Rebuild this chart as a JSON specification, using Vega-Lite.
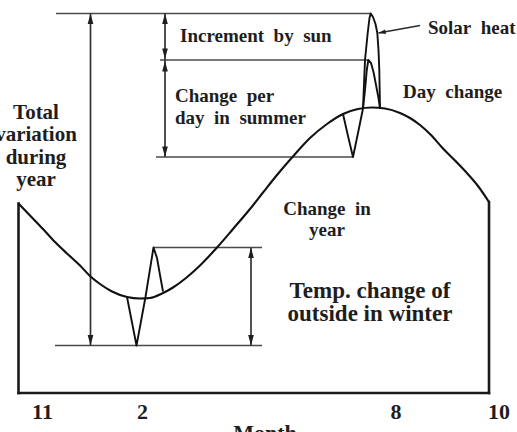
{
  "$schema": "https://vega.github.io/schema/vega-lite/v6.json",
  "width": 517,
  "height": 432,
  "autosize": {"type": "none"},
  "padding": 0,
  "background": "white",
  "config": {
    "view": {"stroke": null},
    "text": {"font": "Liberation Serif", "fontWeight": "bold", "color": "#1e1e1e"}
  },
  "datasets": {
    "year_curve": [
      {"x": 3.7, "y": 45.7}, {"x": 6.0, "y": 43.3}, {"x": 8.6, "y": 40.6}, {"x": 11.0, "y": 38.0},
      {"x": 13.4, "y": 35.7}, {"x": 16.0, "y": 33.3}, {"x": 18.0, "y": 31.2}, {"x": 20.0, "y": 29.6},
      {"x": 22.4, "y": 28.1}, {"x": 25.4, "y": 27.0}, {"x": 28.0, "y": 26.7}, {"x": 30.0, "y": 26.8},
      {"x": 32.4, "y": 27.7}, {"x": 34.6, "y": 28.9}, {"x": 37.2, "y": 30.8}, {"x": 40.0, "y": 33.3},
      {"x": 43.4, "y": 36.9}, {"x": 46.6, "y": 40.6}, {"x": 50.0, "y": 44.6}, {"x": 52.6, "y": 47.9},
      {"x": 55.4, "y": 51.4}, {"x": 58.4, "y": 54.9}, {"x": 62.0, "y": 58.8}, {"x": 65.4, "y": 61.6},
      {"x": 68.6, "y": 63.6}, {"x": 71.6, "y": 64.6}, {"x": 74.4, "y": 64.9}, {"x": 77.0, "y": 64.7},
      {"x": 80.0, "y": 63.8}, {"x": 82.0, "y": 62.8}, {"x": 84.0, "y": 61.4}, {"x": 86.2, "y": 59.4},
      {"x": 88.6, "y": 56.7}, {"x": 91.0, "y": 54.3}, {"x": 93.2, "y": 52.0}, {"x": 95.6, "y": 49.2},
      {"x": 97.8, "y": 46.0}
    ],
    "day_swings": [
      {"swing": "winter", "x": 25.4, "y": 27.0}, {"swing": "winter", "x": 27.3, "y": 17.3},
      {"swing": "winter", "x": 29.1, "y": 27.0}, {"swing": "winter", "x": 30.7, "y": 36.9},
      {"swing": "winter", "x": 31.4, "y": 34.8}, {"swing": "winter", "x": 32.0, "y": 31.4},
      {"swing": "winter", "x": 32.6, "y": 28.1},
      {"swing": "summer", "x": 68.6, "y": 63.6}, {"swing": "summer", "x": 69.6, "y": 59.2},
      {"swing": "summer", "x": 70.6, "y": 55.0}, {"swing": "summer", "x": 71.6, "y": 59.8},
      {"swing": "summer", "x": 72.6, "y": 64.7}, {"swing": "summer", "x": 73.0, "y": 68.4},
      {"swing": "summer", "x": 73.36, "y": 72.4}, {"swing": "summer", "x": 73.66, "y": 74.4},
      {"swing": "summer", "x": 74.2, "y": 73.8}, {"swing": "summer", "x": 74.7, "y": 72.0},
      {"swing": "summer", "x": 75.2, "y": 69.4}, {"swing": "summer", "x": 75.7, "y": 66.8},
      {"swing": "summer", "x": 76.0, "y": 64.7},
      {"swing": "solar", "x": 72.6, "y": 64.7}, {"swing": "solar", "x": 73.0, "y": 74.4},
      {"swing": "solar", "x": 73.54, "y": 79.8}, {"swing": "solar", "x": 73.9, "y": 82.8},
      {"swing": "solar", "x": 74.14, "y": 83.7}, {"swing": "solar", "x": 74.6, "y": 83.0},
      {"swing": "solar", "x": 75.1, "y": 81.6}, {"swing": "solar", "x": 75.46, "y": 79.8},
      {"swing": "solar", "x": 75.7, "y": 76.4}, {"swing": "solar", "x": 75.86, "y": 72.4},
      {"swing": "solar", "x": 76.0, "y": 64.7}
    ],
    "frame_v": [
      {"x": 3.7, "y": 7.8, "y2": 45.7},
      {"x": 97.8, "y": 7.8, "y2": 46.0}
    ],
    "frame_h": [
      {"x": 3.7, "x2": 97.8, "y": 7.8}
    ],
    "levels": [
      {"x": 11.2, "x2": 74.14, "y": 83.7},
      {"x": 32.0, "x2": 73.66, "y": 74.4},
      {"x": 31.2, "x2": 70.6, "y": 55.0},
      {"x": 30.7, "x2": 52.4, "y": 36.9},
      {"x": 11.0, "x2": 52.4, "y": 17.3}
    ],
    "spans": [
      {"x": 18.1, "y": 17.3, "y2": 83.7},
      {"x": 33.0, "y": 74.4, "y2": 83.7},
      {"x": 33.0, "y": 55.0, "y2": 74.4},
      {"x": 50.2, "y": 17.3, "y2": 36.9}
    ],
    "heads": [
      {"x": 18.1, "y": 83.7, "dir": "up"}, {"x": 18.1, "y": 17.3, "dir": "down"},
      {"x": 33.0, "y": 83.7, "dir": "up"}, {"x": 33.0, "y": 74.6, "dir": "down"},
      {"x": 33.0, "y": 74.2, "dir": "up"}, {"x": 33.0, "y": 55.0, "dir": "down"},
      {"x": 50.2, "y": 36.9, "dir": "up"}, {"x": 50.2, "y": 17.3, "dir": "down"}
    ],
    "pointer": [
      {"x": 75.7, "y": 79.8, "x2": 84.0, "y2": 81.3}
    ],
    "notes_left": [
      {"x": 36.0, "y": 78.1, "label": "Increment\u00a0\u00a0by\u00a0\u00a0sun"},
      {"x": 35.0, "y": 66.0, "label": "Change\u00a0\u00a0per"},
      {"x": 35.0, "y": 61.7, "label": "day\u00a0\u00a0in\u00a0\u00a0summer"},
      {"x": 85.6, "y": 79.7, "label": "Solar\u00a0\u00a0heat"},
      {"x": 80.6, "y": 66.8, "label": "Day\u00a0\u00a0change"}
    ],
    "notes_center": [
      {"x": 65.4, "y": 43.4, "label": "Change\u00a0\u00a0in"},
      {"x": 65.4, "y": 39.3, "label": "year"}
    ],
    "side_note": [
      {"x": 7.2, "y": 62.7, "label": "Total"},
      {"x": 7.2, "y": 58.2, "label": "variation"},
      {"x": 7.2, "y": 53.7, "label": "during"},
      {"x": 7.2, "y": 49.2, "label": "year"}
    ],
    "winter_note": [
      {"x": 74.0, "y": 26.9, "label": "Temp. change of"},
      {"x": 74.0, "y": 22.3, "label": "outside in winter"}
    ],
    "months": [
      {"x": 8.5, "y": 2.6, "label": "11"},
      {"x": 28.5, "y": 2.6, "label": "2"},
      {"x": 79.2, "y": 2.6, "label": "8"},
      {"x": 99.8, "y": 2.6, "label": "10"},
      {"x": 53.0, "y": -1.5, "label": "Month"}
    ]
  },
  "encoding": {
    "x": {"field": "x", "type": "quantitative", "scale": {"domain": [0, 103.4], "nice": false, "zero": false}, "axis": null},
    "y": {"field": "y", "type": "quantitative", "scale": {"domain": [0, 86.4], "nice": false, "zero": false}, "axis": null}
  },
  "layer": [
    {
      "data": {"name": "frame_v"},
      "mark": {"type": "rule", "color": "#1a1a1a", "strokeWidth": 2.6, "strokeCap": "square"},
      "encoding": {"y2": {"field": "y2"}}
    },
    {
      "data": {"name": "frame_h"},
      "mark": {"type": "rule", "color": "#1a1a1a", "strokeWidth": 2.6, "strokeCap": "square"},
      "encoding": {"x2": {"field": "x2"}}
    },
    {
      "data": {"name": "levels"},
      "mark": {"type": "rule", "color": "#4a4a4a", "strokeWidth": 1.7},
      "encoding": {"x2": {"field": "x2"}}
    },
    {
      "data": {"name": "spans"},
      "mark": {"type": "rule", "color": "#333333", "strokeWidth": 1.7},
      "encoding": {"y2": {"field": "y2"}}
    },
    {
      "data": {"name": "heads"},
      "transform": [{"filter": "datum.dir === 'up'"}],
      "mark": {"type": "point", "filled": true, "opacity": 1, "color": "#1e1e1e", "size": 200, "shape": "M0,0L-0.4,1.5L0.4,1.5Z"}
    },
    {
      "data": {"name": "heads"},
      "transform": [{"filter": "datum.dir === 'down'"}],
      "mark": {"type": "point", "filled": true, "opacity": 1, "color": "#1e1e1e", "size": 200, "shape": "M0,0L-0.4,-1.5L0.4,-1.5Z"}
    },
    {
      "data": {"name": "year_curve"},
      "mark": {"type": "line", "color": "#111111", "strokeWidth": 2.1, "interpolate": "monotone"}
    },
    {
      "data": {"name": "day_swings"},
      "mark": {"type": "line", "color": "#111111", "strokeWidth": 1.9, "strokeJoin": "round"},
      "encoding": {"detail": {"field": "swing"}}
    },
    {
      "data": {"name": "pointer"},
      "mark": {"type": "rule", "color": "#2a2a2a", "strokeWidth": 1.6},
      "encoding": {"x2": {"field": "x2"}, "y2": {"field": "y2"}}
    },
    {
      "data": {"name": "pointer"},
      "mark": {"type": "point", "filled": true, "opacity": 1, "color": "#1e1e1e", "size": 90, "angle": 350, "shape": "M0,0L1.5,-0.5L1.5,0.5Z"}
    },
    {
      "data": {"name": "notes_left"},
      "mark": {"type": "text", "align": "left", "baseline": "alphabetic", "fontSize": 19},
      "encoding": {"text": {"field": "label"}}
    },
    {
      "data": {"name": "notes_center"},
      "mark": {"type": "text", "align": "center", "baseline": "alphabetic", "fontSize": 19},
      "encoding": {"text": {"field": "label"}}
    },
    {
      "data": {"name": "side_note"},
      "mark": {"type": "text", "align": "center", "baseline": "alphabetic", "fontSize": 21},
      "encoding": {"text": {"field": "label"}}
    },
    {
      "data": {"name": "winter_note"},
      "mark": {"type": "text", "align": "center", "baseline": "alphabetic", "fontSize": 23},
      "encoding": {"text": {"field": "label"}}
    },
    {
      "data": {"name": "months"},
      "mark": {"type": "text", "align": "center", "baseline": "alphabetic", "fontSize": 22},
      "encoding": {"text": {"field": "label"}}
    }
  ]
}
